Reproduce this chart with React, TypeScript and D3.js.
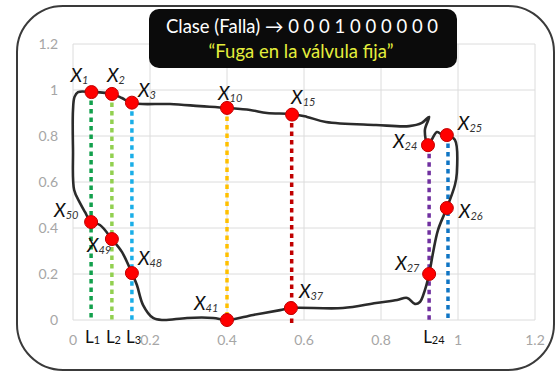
import React from 'react'
import * as d3 from 'd3'

// closed loop (x, y in axis units)
const loopX = [0.013, 0.048, 0.101, 0.127, 0.153, 0.252, 0.330, 0.400, 0.460, 0.504, 0.569, 0.608, 0.657, 0.787, 0.873, 0.906, 0.925, 0.914, 0.922, 0.945, 0.956, 0.971, 0.992, 0.997, 0.992, 0.971, 0.948, 0.935, 0.925, 0.914, 0.901, 0.888, 0.868, 0.842, 0.787, 0.701, 0.566, 0.538, 0.468, 0.400, 0.364, 0.296, 0.234, 0.208, 0.182, 0.166, 0.153, 0.127, 0.101, 0.070, 0.047, 0.031, 0.018, 0.003, 0.000, 0.000, 0.004]
const loopY = [0.991, 0.991, 0.983, 0.965, 0.943, 0.939, 0.930, 0.922, 0.913, 0.900, 0.896, 0.883, 0.861, 0.848, 0.843, 0.857, 0.883, 0.826, 0.761, 0.817, 0.809, 0.804, 0.783, 0.639, 0.587, 0.487, 0.391, 0.291, 0.200, 0.130, 0.078, 0.070, 0.096, 0.087, 0.074, 0.052, 0.052, 0.043, 0.022, 0.000, 0.009, 0.009, 0.000, 0.009, 0.065, 0.152, 0.204, 0.296, 0.352, 0.413, 0.426, 0.470, 0.509, 0.565, 0.739, 0.913, 0.970]

const markerNames = ['1', '2', '3', '10', '15', '24', '25', '26', '27', '37', '41', '48', '49', '50']
const markerX = [0.048, 0.101, 0.153, 0.400, 0.569, 0.922, 0.971, 0.971, 0.925, 0.566, 0.400, 0.153, 0.101, 0.047]
const markerY = [0.991, 0.983, 0.945, 0.922, 0.893, 0.760, 0.804, 0.487, 0.200, 0.052, 0.000, 0.204, 0.352, 0.426]

const dropX = [0.047, 0.101, 0.153, 0.400, 0.568, 0.925, 0.974]
const dropTop = [0.991, 0.983, 0.945, 0.922, 0.893, 0.760, 0.804]
const dropBottom = [0, 0, 0, 0, -0.02, -0.01, 0]
const dropColors = ['#12a04c', '#92d050', '#1aaee8', '#ffc000', '#c00000', '#7030a0', '#0f75c4']

const bottomLabels = ['1', '2', '3', '24']
const bottomLabelX = [0.047, 0.101, 0.153, 0.925]

const axisTicks = [0, 0.2, 0.4, 0.6, 0.8, 1, 1.2]
const tickLabels = ['0', '0.2', '0.4', '0.6', '0.8', '1', '1.2']

const titleLine1 = 'Clase (Falla) \u2192 0 0 0 1 0 0 0 0 0 0'
const titleLine2 = '\u201CFuga en la válvula fija\u201D'

// label placement around each marker (text start / baseline offsets in px)
const labelOffset: [number, number][] = [
  [-21, -10], [-5, -12], [6, -6], [-9, -8], [-1, -11], [-35, 3], [11, -5],
  [12, 10], [-34, -4], [8, -10], [-33, -10], [6, -8], [-25, 13], [-37, -5],
]

export default function App() {
  const width = 556
  const height = 375
  const x = d3.scaleLinear().domain([0, 1.2]).range([73, 535])
  const y = d3.scaleLinear().domain([0, 1.2]).range([320, 44])

  const loop = d3.line<number>()
    .x((_, i) => x(loopX[i]))
    .y((_, i) => y(loopY[i]))
    .curve(d3.curveCatmullRomClosed.alpha(0.5))

  const font = 'Lato, "Open Sans", sans-serif'

  return (
    <svg width={width} height={height} style={{ position: 'absolute', left: 0, top: 0 }} fontFamily={font}>
      <rect x={0} y={0} width={width} height={height} fill="#fff" />
      <rect x={17} y={6} width={537} height={364} rx={46} fill="#fff" stroke="#3a3a3a" strokeWidth={2} />

      <g className="grid" stroke="#dcdcdc" strokeWidth={1}>
        {axisTicks.map(t => (
          <line key={'h' + t} x1={x(0)} x2={x(1.2)} y1={y(t)} y2={y(t)} />
        ))}
        {axisTicks.map(t => (
          <line key={'v' + t} x1={x(t)} x2={x(t)} y1={y(0)} y2={y(1.2)} />
        ))}
      </g>

      <g fill="#a6a6a6" fontSize={14}>
        {axisTicks.map((t, i) => (
          <text key={'yl' + t} x={58} y={y(t)} dy="0.35em" textAnchor="end">{tickLabels[i]}</text>
        ))}
        {axisTicks.map((t, i) => (
          <text key={'xl' + t} x={x(t)} y={345} textAnchor="middle">{tickLabels[i]}</text>
        ))}
      </g>

      {dropX.map((d, i) => (
        <line key={'d' + i} x1={x(d)} x2={x(d)} y1={y(dropTop[i])} y2={y(dropBottom[i])}
          stroke={dropColors[i]} strokeWidth={3.5} strokeDasharray="4.5 4" />
      ))}

      <path d={loop(loopX) ?? ''} fill="none" stroke="#2b2b2b" strokeWidth={2.6} strokeLinejoin="round" />

      {markerNames.map((n, i) => (
        <circle key={'m' + n} cx={x(markerX[i])} cy={y(markerY[i])} r={6.5} fill="#ff0000" stroke="#c00000" strokeWidth={1} />
      ))}

      {markerNames.map((n, i) => (
        <text key={'t' + n} x={x(markerX[i]) + labelOffset[i][0]} y={y(markerY[i]) + labelOffset[i][1]}
          fontStyle="italic" fill="#111">
          <tspan fontSize={19}>X</tspan>
          <tspan fontSize={11} dy={2} fill="#333">{n}</tspan>
        </text>
      ))}

      {bottomLabels.map((n, i) => (
        <text key={'L' + n} x={x(bottomLabelX[i]) - 6} y={343} fill="#111">
          <tspan fontSize={17}>L</tspan>
          <tspan fontSize={11} dy={1}>{n}</tspan>
        </text>
      ))}

      <rect x={149} y={9} width={308} height={59} rx={10} fill="#0b0b0b" />
      <text x={302} y={33} textAnchor="middle" fill="#fff" fontSize={18.5}>{titleLine1}</text>
      <text x={301} y={58} textAnchor="middle" fill="#e4ee3c" fontSize={18.5}>{titleLine2}</text>
    </svg>
  )
}
